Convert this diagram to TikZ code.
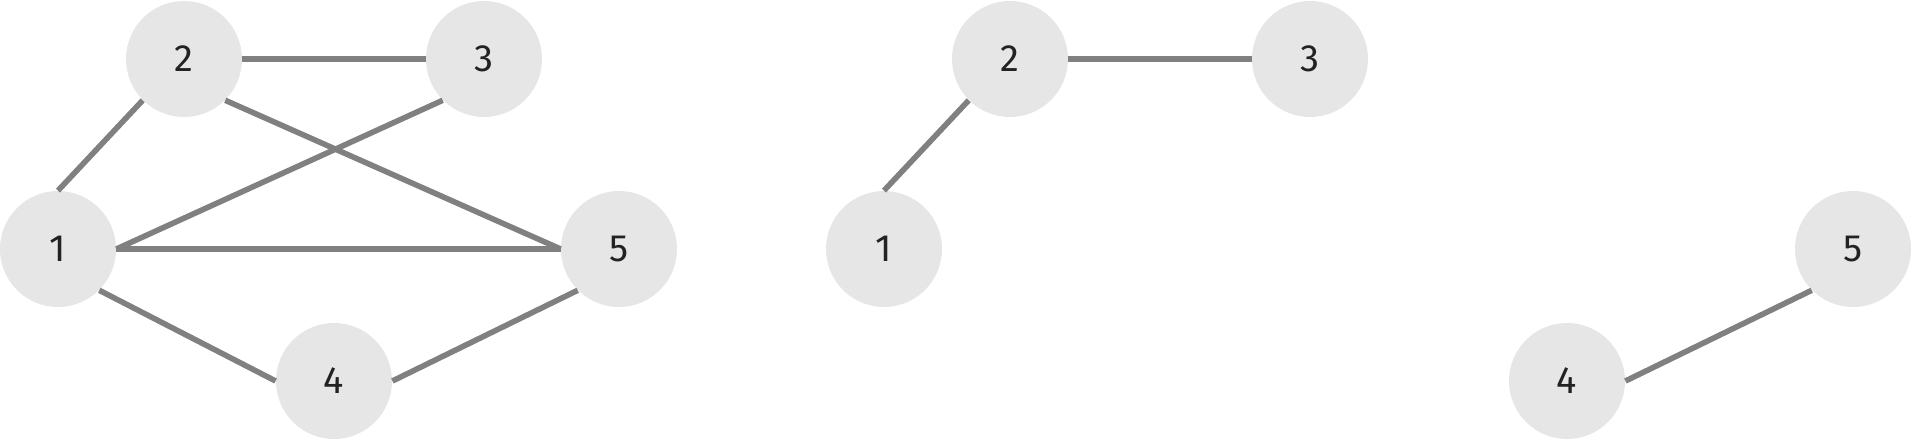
\documentclass[tikz,border=0pt]{standalone}
\usepackage{fontspec}
\setmainfont{Fira Sans}
\usepackage{xcolor}
\usepackage{tikz}
\usetikzlibrary{positioning}
\definecolor{nodegray}{HTML}{E7E6E7}
\definecolor{linkgray}{HTML}{808080}
\definecolor{digitgray}{HTML}{222222}

\begin{document}
\begin{tikzpicture}[
  x=0.5pt,y=0.5pt,
  vertex/.style={circle,fill=nodegray,inner sep=0pt,minimum size=58pt,text=digitgray,font=\fontsize{19}{19}\selectfont},
  link/.style={draw=linkgray,line width=2.8pt}
]
\useasboundingbox (0,0) rectangle (1912,-440);
% left graph
\node[vertex] (a1) at (58,-249) {1};
\node[vertex] (a2) at (184,-59) {2};
\node[vertex] (a3) at (484,-59) {3};
\node[vertex] (a4) at (334,-381) {4};
\node[vertex] (a5) at (619,-249) {5};
\draw[link] (a1.north) -- (a2.225);
\draw[link] (a2.east) -- (a3.west);
\draw[link] (a2.-45) -- (a5.west);
\draw[link] (a3.225) -- (a1.east);
\draw[link] (a1.east) -- (a5.west);
\draw[link] (a1.-45) -- (a4.west);
\draw[link] (a4.east) -- (a5.225);
% right graph
\node[vertex] (b1) at (884,-249) {1};
\node[vertex] (b2) at (1010,-59) {2};
\node[vertex] (b3) at (1310,-59) {3};
\node[vertex] (b4) at (1567,-381) {4};
\node[vertex] (b5) at (1853,-249) {5};
\draw[link] (b1.north) -- (b2.225);
\draw[link] (b2.east) -- (b3.west);
\draw[link] (b4.east) -- (b5.225);
\end{tikzpicture}
\end{document}
